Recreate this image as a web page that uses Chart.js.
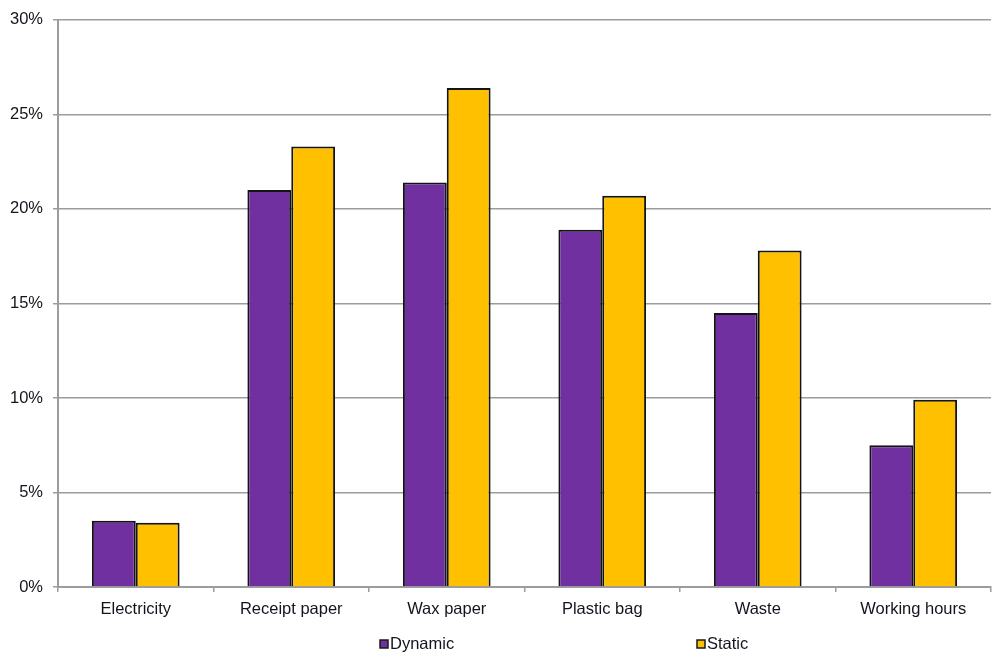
<!DOCTYPE html>
<html>
<head>
<meta charset="utf-8">
<script src="https://cdn.jsdelivr.net/npm/chart.js@4/dist/chart.umd.min.js"></script>
<style>
  html, body { margin: 0; padding: 0; background: #fff; }
  #wrap { width: 992px; height: 654px; }
</style>
</head>
<body>
<div id="wrap"><canvas id="chart" width="992" height="654"></canvas></div>
<script>
// Share of savings per item
const categories = ['Electricity', 'Receipt paper', 'Wax paper', 'Plastic bag', 'Waste', 'Working hours'];
const dynamicValues = [3.5, 21.0, 21.4, 18.9, 14.5, 7.5];
const staticValues = [3.4, 23.3, 26.4, 20.7, 17.8, 9.9];
const yTicks = [0, 5, 10, 15, 20, 25, 30];

const textColor = '#14141e';
const gridColor = '#9c9c9c';
const font = { family: 'Liberation Sans, Arial, sans-serif', size: 16.5 };

// Legend drawn under the axis with wide spacing between the two entries
const bottomLegend = {
    id: 'bottomLegend',
    afterDraw(chart) {
        const ctx = chart.ctx;
        const slots = [380, 697];
        ctx.save();
        ctx.font = `${font.size}px ${font.family}`;
        ctx.textBaseline = 'middle';
        chart.data.datasets.forEach((ds, i) => {
            const x = slots[i];
            const y = 644;
            ctx.fillStyle = ds.backgroundColor;
            ctx.fillRect(x, y - 4, 8, 8);
            ctx.strokeStyle = '#1a1a1a';
            ctx.lineWidth = 1.5;
            ctx.strokeRect(x, y - 4, 8, 8);
            ctx.fillStyle = textColor;
            ctx.fillText(ds.label, x + 10, y);
        });
        ctx.restore();
    }
};

new Chart(document.getElementById('chart').getContext('2d'), {
    type: 'bar',
    data: {
        labels: categories,
        datasets: [{
            label: 'Dynamic',
            data: dynamicValues,
            backgroundColor: '#7030A0',
            borderColor: '#141414',
            borderWidth: 2,
            borderSkipped: 'bottom',
        }, {
            label: 'Static',
            data: staticValues,
            backgroundColor: '#FFC000',
            borderColor: '#141414',
            borderWidth: 2,
            borderSkipped: 'bottom',
        }],
    },
    options: {
        responsive: false,
        animation: false,
        layout: { padding: { top: 18, right: 1, left: 0, bottom: 0 } },
        categoryPercentage: 0.564,
        barPercentage: 1,
        plugins: {
            legend: { display: false },
            tooltip: { enabled: false },
        },
        scales: {
            x: {
                grid: { drawOnChartArea: false, tickLength: 5, color: gridColor, lineWidth: 1.5, offset: true },
                border: { color: gridColor, width: 2 },
                ticks: { color: textColor, font: font, padding: 8 },
                afterFit(scale) { scale.height = 67; },
            },
            y: {
                min: 0,
                max: 30,
                afterBuildTicks(scale) { scale.ticks = yTicks.map(v => ({ value: v })); },
                grid: { color: gridColor, lineWidth: 1.5, tickLength: 5 },
                border: { color: gridColor, width: 2 },
                ticks: { color: textColor, font: font, padding: 10, callback: v => v + '%' },
                afterFit(scale) { scale.width = 58; },
            },
        },
    },
    plugins: [bottomLegend],
});
</script>
</body>
</html>
